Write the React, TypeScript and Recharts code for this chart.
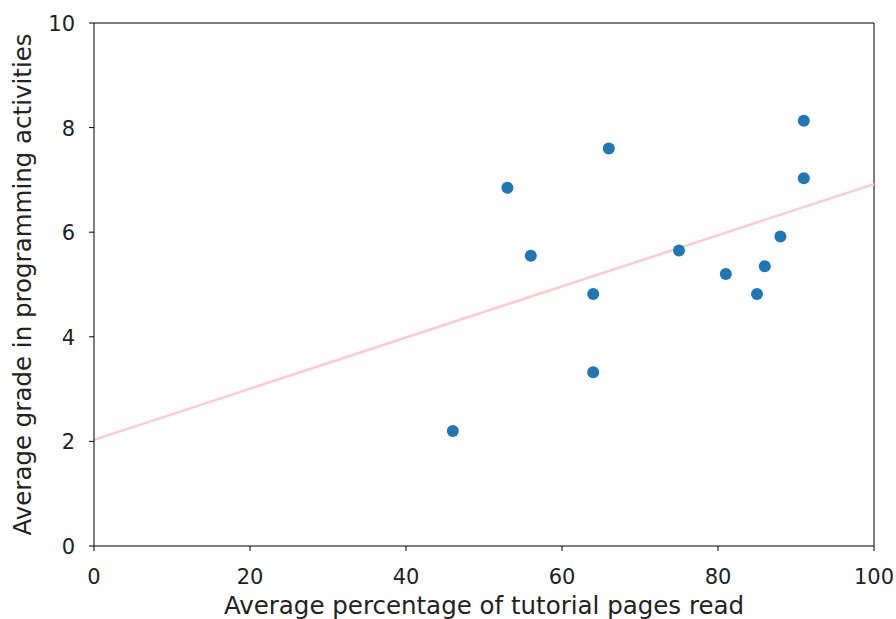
import React from 'react';
import { ScatterChart, Scatter, XAxis, YAxis, ReferenceLine, Label } from 'recharts';

// pages read (%) vs grade
const pagesRead = [46, 53, 56, 64, 64, 66, 75, 81, 85, 86, 88, 91, 91];
const grades = [2.2, 6.85, 5.55, 4.82, 3.32, 7.6, 5.65, 5.2, 4.82, 5.35, 5.92, 7.03, 8.13];

const xTicks = [0, 20, 40, 60, 80, 100];
const yTicks = [0, 2, 4, 6, 8, 10];

// fitted trend line end points
const fitX = [0, 100];
const fitY = [2.03, 6.92];

const points = pagesRead.map((x, i) => ({ x, y: grades[i] }));

const Dot = (props: any) => <circle cx={props.cx} cy={props.cy} r={6} fill="#1f77b4" />;

const XTick = (props: any) => {
  const { x, y, payload } = props;
  return (
    <text x={x} y={y + 31} textAnchor="middle" fontFamily="DejaVu Sans" fontSize={21} fill="#222">
      {payload.value}
    </text>
  );
};

const YTick = (props: any) => {
  const { x, y, payload } = props;
  return (
    <text x={x - 12} y={y + 8} textAnchor="end" fontFamily="DejaVu Sans" fontSize={21} fill="#222">
      {payload.value}
    </text>
  );
};

const App: React.FC = () => {
  return (
    <div style={{ position: 'absolute', left: 0, top: 0 }}>
      <ScatterChart width={896} height={619} margin={{ top: 23, right: 22, left: 0, bottom: 0 }}>
        <XAxis
          type="number"
          dataKey="x"
          domain={[0, 100]}
          ticks={xTicks}
          height={73}
          stroke="#000"
          tickSize={5}
          tick={<XTick />}
        >
          <Label
            value="Average percentage of tutorial pages read"
            position="insideBottom"
            offset={5}
            style={{ fontFamily: 'DejaVu Sans', fontSize: 24.5, fill: '#222' }}
          />
        </XAxis>
        <YAxis
          type="number"
          dataKey="y"
          domain={[0, 10]}
          ticks={yTicks}
          width={94}
          stroke="#000"
          tickSize={5}
          tick={<YTick />}
        >
          <Label
            value="Average grade in programming activities"
            angle={-90}
            position="insideLeft"
            offset={22}
            style={{ textAnchor: 'middle', fontFamily: 'DejaVu Sans', fontSize: 24.5, fill: '#222' }}
          />
        </YAxis>
        {/* top and right spines */}
        <ReferenceLine y={10} stroke="#000" />
        <ReferenceLine x={100} stroke="#000" />
        <ReferenceLine
          segment={[
            { x: fitX[0], y: fitY[0] },
            { x: fitX[1], y: fitY[1] },
          ]}
          stroke="#ffcccc"
          strokeWidth={2.5}
        />
        <Scatter data={points} shape={<Dot />} isAnimationActive={false} />
      </ScatterChart>
    </div>
  );
};

export default App;
